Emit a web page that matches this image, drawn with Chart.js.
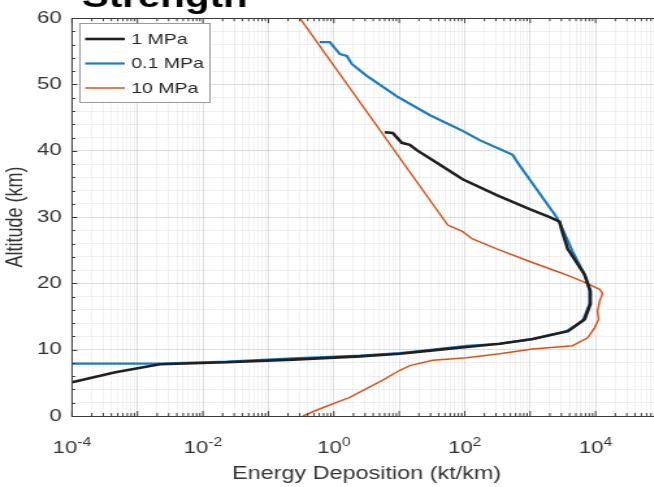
<!DOCTYPE html>
<html>
<head>
<meta charset="utf-8">
<title>Energy Deposition</title>
<script src="https://cdn.jsdelivr.net/npm/chart.js@4.4.1/dist/chart.umd.min.js"></script>
<style>
  html, body { margin: 0; padding: 0; background: #fff; overflow: hidden; }
  /* the figure is laid out narrow and widened 1.3x, like the exported plot */
  #wrap { position: relative; width: 510px; height: 487px; transform: scaleX(1.3); transform-origin: 0 0; filter: blur(0.5px); }
</style>
</head>
<body>
<div id="wrap"><canvas id="energyChart"></canvas></div>
<script>
// Energy deposition (kt/km) against altitude (km), one profile per strength
const energy1MPa = [6.0, 7.96, 10.9, 14.5, 18.5, 37.4, 93, 308, 983, 1985, 2820, 3030, 3740, 6800, 8300, 8300, 6800, 3800, 1090, 342, 107, 32.5, 10.2, 2.5, 0.237, 0.023, 0.0022, 0.00046, 0.0001];
const altitude1MPa = [42.8, 42.7, 41.2, 40.9, 40.1, 38.2, 35.7, 33.3, 31.2, 30.0, 29.3, 28.1, 25.2, 21.3, 18.8, 16.9, 14.6, 12.8, 11.6, 10.9, 10.4, 9.9, 9.4, 9.0, 8.5, 8.1, 7.8, 6.6, 5.1];

const energy01MPa = [0.61, 0.87, 1.24, 1.58, 1.88, 3.19, 9.2, 29, 93, 169, 540, 645, 1256, 2540, 3135, 4460, 6800, 8100, 8100, 6340, 3600, 1090, 342, 107, 32.5, 10.2, 2.5, 0.237, 0.023, 0.0022, 0.0001];
const altitude01MPa = [56.4, 56.4, 54.6, 54.3, 53.1, 51.3, 48.2, 45.4, 43.0, 41.6, 39.4, 38.2, 34.2, 30.0, 28.2, 24.8, 21.3, 19.1, 16.9, 14.3, 12.8, 11.6, 10.9, 10.6, 10.0, 9.5, 9.1, 8.7, 8.2, 7.9, 7.9];

const energy10MPa = [0.303, 55, 65.6, 93, 132, 308, 983, 3135, 6320, 11500, 12800, 11500, 10700, 11100, 9660, 7550, 4450, 1090, 342, 107, 32.5, 14.5, 10.2, 5.6, 1.75, 0.55, 0.336];
const altitude10MPa = [60, 28.8, 28.5, 27.8, 26.7, 25.2, 23.3, 21.5, 20.3, 19.1, 18.5, 17.3, 15.8, 14.6, 13.3, 11.8, 10.6, 10.1, 9.4, 8.8, 8.4, 7.6, 6.9, 5.4, 2.8, 0.9, 0];

const seriesLabels = ['1 MPa', '0.1 MPa', '10 MPa'];
const yTickValues = [0, 10, 20, 30, 40, 50, 60];
const yTickLabels = ['0', '10', '20', '30', '40', '50', '60'];
const xTickBase = '10';
const xTickPowers = ['-4', '-2', '0', '2', '4'];

const seriesColors = ['#202020', '#1c7cc2', '#d95319'];
const seriesWidths = [2.6, 2.2, 1.5];
const FONT = '"Liberation Sans", Arial, Helvetica, sans-serif';
const TEXT = '#333333';

// grid lines: 1..9 x 10^n on the log axis, every 2 km on altitude
const xGrid = [];
for (let e = -4; e < 5; e++) {
  for (let m = 1; m < 10; m++) xGrid.push(m * Math.pow(10, e));
}
xGrid.push(1e5);
const yGrid = [];
for (let v = 0; v <= 60; v += 2) yGrid.push(v);

function isDecade(v) {
  const l = Math.log10(v);
  return Math.abs(l - Math.round(l)) < 1e-6;
}

function toPoints(xs, ys) {
  return xs.map((x, i) => ({ x: x, y: ys[i] }));
}

const energies = [energy1MPa, energy01MPa, energy10MPa];
const altitudes = [altitude1MPa, altitude01MPa, altitude10MPa];

// box, inward ticks, superscript tick labels, legend and heading
const axisDecor = {
  id: 'axisDecor',
  afterDraw(chart) {
    const { ctx, chartArea: a, scales: { x, y } } = chart;
    ctx.save();

    ctx.strokeStyle = '#3a3a3a';
    ctx.lineWidth = 1;
    ctx.strokeRect(a.left, Math.round(a.top) + 0.5, a.right - a.left, Math.round(a.bottom - a.top));

    ctx.beginPath();
    xGrid.forEach(v => {
      const px = x.getPixelForValue(v);
      const len = isDecade(v) ? 5 : 3;
      ctx.moveTo(px, a.bottom); ctx.lineTo(px, a.bottom - len);
      ctx.moveTo(px, a.top); ctx.lineTo(px, a.top + len);
    });
    yGrid.forEach(v => {
      const py = Math.round(y.getPixelForValue(v)) + 0.5;
      const len = v % 10 === 0 ? 4 : 2.5;
      ctx.moveTo(a.left, py); ctx.lineTo(a.left + len, py);
      ctx.moveTo(a.right, py); ctx.lineTo(a.right - len, py);
    });
    ctx.stroke();

    // x tick labels as 10 with a raised exponent
    ctx.fillStyle = TEXT;
    ctx.textBaseline = 'alphabetic';
    ctx.textAlign = 'left';
    xTickPowers.forEach(p => {
      const px = x.getPixelForValue(Math.pow(10, Number(p)));
      ctx.font = '17px ' + FONT;
      const w1 = ctx.measureText(xTickBase).width;
      ctx.font = '12px ' + FONT;
      const w2 = ctx.measureText(p).width;
      const left = px - (w1 + w2) / 2;
      ctx.font = '17px ' + FONT;
      ctx.fillText(xTickBase, left, 453);
      ctx.font = '12px ' + FONT;
      ctx.fillText(p, left + w1, 446);
    });

    // legend
    const lx = 61, ly = 23, lw = 100, lh = 79;
    ctx.fillStyle = '#ffffff';
    ctx.fillRect(lx, ly, lw, lh);
    ctx.strokeStyle = '#9a9a9a';
    ctx.strokeRect(lx + 0.5, ly + 0.5, lw, lh);
    const rows = [39, 63.5, 88];
    ctx.font = '15px ' + FONT;
    ctx.textBaseline = 'middle';
    chart.data.datasets.forEach((ds, i) => {
      ctx.strokeStyle = ds.borderColor;
      ctx.lineWidth = ds.borderWidth;
      ctx.beginPath();
      ctx.moveTo(65.5, rows[i]); ctx.lineTo(96, rows[i]);
      ctx.stroke();
      ctx.fillStyle = '#262626';
      ctx.fillText(ds.label, 101, rows[i] + 0.5);
    });

    // heading, mostly above the top edge
    ctx.fillStyle = '#000000';
    ctx.textBaseline = 'alphabetic';
    ctx.font = 'bold 31px ' + FONT;
    ctx.fillText('Strength', 63, 7);

    ctx.restore();
  }
};

new Chart(document.getElementById('energyChart'), {
  type: 'line',
  data: {
    datasets: seriesLabels.map((label, i) => ({
      label: label,
      data: toPoints(energies[i], altitudes[i]),
      borderColor: seriesColors[i],
      backgroundColor: seriesColors[i],
      borderWidth: seriesWidths[i],
      pointRadius: 0,
      tension: 0,
      fill: false
    }))
  },
  options: {
    responsive: true,
    maintainAspectRatio: false,
    animation: false,
    layout: { padding: { top: 14, right: 1.5, left: 0, bottom: 0 } },
    plugins: {
      legend: { display: false },
      tooltip: { enabled: false }
    },
    scales: {
      x: {
        type: 'logarithmic',
        min: 1e-4,
        max: 1e5,
        afterBuildTicks: s => { s.ticks = xGrid.map(v => ({ value: v })); },
        afterFit: s => { s.height = 71; },
        ticks: { display: false, autoSkip: false },
        grid: {
          drawTicks: false,
          color: c => isDecade(c.tick.value) ? 'rgba(0,0,0,0.13)' : 'rgba(0,0,0,0.06)'
        },
        border: { display: false },
        title: {
          display: true,
          text: 'Energy Deposition (kt/km)',
          color: TEXT,
          font: { family: FONT, size: 18 },
          padding: { top: 0, bottom: 2 }
        }
      },
      y: {
        type: 'linear',
        min: 0,
        max: 60,
        afterBuildTicks: s => { s.ticks = yGrid.map(v => ({ value: v })); },
        afterFit: s => { s.width = 55.4; },
        ticks: {
          autoSkip: false,
          padding: 8,
          color: TEXT,
          font: { family: FONT, size: 17 },
          callback: v => {
            const k = yTickValues.indexOf(v);
            return k >= 0 ? yTickLabels[k] : '';
          }
        },
        grid: {
          drawTicks: false,
          color: c => c.tick.value % 10 === 0 ? 'rgba(0,0,0,0.13)' : 'rgba(0,0,0,0.06)'
        },
        border: { display: false },
        title: {
          display: true,
          text: 'Altitude (km)',
          color: TEXT,
          font: { family: FONT, size: 18 },
          padding: { top: 1, bottom: 0 }
        }
      }
    }
  },
  plugins: [axisDecor]
});
</script>
</body>
</html>
